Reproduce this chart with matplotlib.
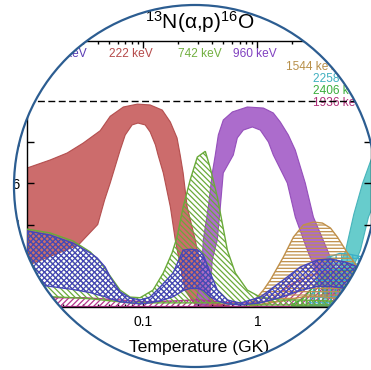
import numpy as np
import matplotlib
matplotlib.use('Agg')
import matplotlib.pyplot as plt
from matplotlib.patches import Annulus, Circle
from matplotlib.ticker import FuncFormatter, NullFormatter, LogLocator

plt.rcParams['font.family'] = ['Liberation Sans', 'DejaVu Sans']
plt.rcParams['mathtext.fontset'] = 'custom'
plt.rcParams['mathtext.rm'] = 'Liberation Sans'
plt.rcParams['mathtext.default'] = 'regular'
plt.rcParams['hatch.linewidth'] = 0.9

# 222 keV (сплошная полоса)
red_T_hi = [0.0096, 0.0153, 0.0216, 0.0298, 0.042, 0.0514, 0.067, 0.089, 0.115, 0.147, 0.173,
            0.198, 0.211, 0.224, 0.243, 0.286, 0.35, 0.43, 0.58]
red_hi = [0.674, 0.713, 0.747, 0.795, 0.855, 0.925, 0.970, 0.984, 0.98, 0.955, 0.897,
          0.82, 0.737, 0.65, 0.485, 0.325, 0.08, 0.02, 0.005]
red_T_lo = [0.0096, 0.027, 0.040, 0.046, 0.0514, 0.0628, 0.0696, 0.080, 0.090, 0.104, 0.115,
            0.128, 0.135, 0.150, 0.173, 0.191, 0.233, 0.286]
red_lo = [0.20, 0.30, 0.40, 0.52, 0.601, 0.76, 0.834, 0.883, 0.892, 0.883, 0.849,
          0.786, 0.737, 0.65, 0.485, 0.325, 0.08, 0.01]

# 960 keV
pur_T_hi = [0.286, 0.304, 0.329, 0.336, 0.372, 0.403, 0.428, 0.455, 0.503, 0.604, 0.817, 1.13,
            1.38, 1.59, 1.87, 2.15, 2.63, 3.10, 4.11, 5.03, 6.54]
pur_hi = [0.01, 0.08, 0.23, 0.325, 0.485, 0.65, 0.737, 0.834, 0.907, 0.946, 0.970, 0.965,
          0.941, 0.897, 0.834, 0.761, 0.601, 0.436, 0.276, 0.155, 0.044]
pur_T_lo = [0.372, 0.387, 0.403, 0.446, 0.474, 0.503, 0.616, 0.668, 0.754, 0.904, 1.06, 1.25,
            1.38, 1.83, 2.15, 2.74, 3.36, 3.95]
pur_lo = [0.01, 0.08, 0.23, 0.325, 0.485, 0.65, 0.737, 0.82, 0.858, 0.873, 0.858, 0.80,
          0.737, 0.601, 0.436, 0.276, 0.155, 0.044]

# 742 keV (штриховка)
grn_T = [0.0096, 0.0153, 0.0243, 0.0344, 0.042, 0.0514, 0.0628, 0.0769, 0.094, 0.122, 0.15,
         0.179, 0.198, 0.224, 0.258, 0.298, 0.35, 0.387, 0.446, 0.493, 0.546, 0.641, 0.817,
         1.06, 1.59, 2.38, 4.37, 9.6]
grn_hi = [0.378, 0.359, 0.32, 0.267, 0.218, 0.15, 0.082, 0.048, 0.045, 0.082, 0.165,
          0.262, 0.339, 0.485, 0.616, 0.727, 0.755, 0.674, 0.534, 0.407, 0.276, 0.165, 0.082,
          0.048, 0.034, 0.034, 0.029, 0.02]
grn_lo = [0.05, 0.05, 0.045, 0.04, 0.035, 0.03, 0.025, 0.02, 0.02, 0.02, 0.02,
          0.02, 0.02, 0.02, 0.02, 0.02, 0.02, 0.02, 0.02, 0.02, 0.015, 0.015, 0.01,
          0.01, 0.01, 0.01, 0.01, 0.01]

# самый низкий резонанс (синяя штриховка)
blu_T = [0.0096, 0.0153, 0.0243, 0.0344, 0.0395, 0.0464, 0.0514, 0.0628, 0.0769, 0.094, 0.115,
         0.141, 0.183, 0.224, 0.258, 0.304, 0.336, 0.387, 0.446, 0.546, 0.71, 1.06, 1.69,
         2.38, 3.36, 4.37, 5.91, 8.0, 9.6]
blu_hi = [0.369, 0.349, 0.31, 0.262, 0.238, 0.194, 0.145, 0.073, 0.044, 0.034, 0.048,
          0.097, 0.165, 0.276, 0.28, 0.276, 0.252, 0.165, 0.082, 0.034, 0.019, 0.048, 0.131,
          0.194, 0.228, 0.233, 0.218, 0.189, 0.17]
blu_lo = [0.116, 0.10, 0.085, 0.07, 0.06, 0.05, 0.04, 0.025, 0.02, 0.015, 0.02,
          0.03, 0.05, 0.08, 0.09, 0.09, 0.08, 0.05, 0.03, 0.015, 0.01, 0.02, 0.05,
          0.08, 0.10, 0.10, 0.09, 0.08, 0.07]

# 1544 keV
tan_T = [0.868, 1.0, 1.13, 1.30, 1.69, 2.07, 2.53, 3.10, 3.72, 4.37, 5.03, 6.16, 7.54, 9.6]
tan_hi = [0.019, 0.048, 0.082, 0.131, 0.242, 0.339, 0.398, 0.412, 0.407, 0.383, 0.339, 0.262,
          0.194, 0.14]
tan_lo = [0.005, 0.01, 0.015, 0.02, 0.03, 0.04, 0.05, 0.05, 0.05, 0.045, 0.04, 0.035, 0.03, 0.025]

# 2258 keV
cya_T_hi = [4.8, 5.2, 5.91, 7.0, 8.35, 10.0]
cya_hi = [0.08, 0.20, 0.27, 0.45, 0.60, 0.72]
cya_T_lo = [4.8, 6.5, 8.0, 9.4, 10.5]
cya_lo = [0.08, 0.155, 0.276, 0.436, 0.50]
cyb_T = [2.9, 3.36, 4.1, 5.3, 6.5, 8.0, 9.9]
cyb_hi = [0.03, 0.145, 0.24, 0.26, 0.255, 0.245, 0.23]
cyb_lo = [0.01, 0.01, 0.01, 0.01, 0.01, 0.01, 0.01]

# 2406 keV
gr2_T = [2.0, 2.5, 3.5, 4.5, 6.0, 8.0, 9.9]
gr2_hi = [0.01, 0.04, 0.13, 0.17, 0.18, 0.17, 0.16]
gr2_lo = [0.005, 0.005, 0.005, 0.005, 0.005, 0.005, 0.005]

# 1936 keV
mag_T = [0.0096, 0.03, 0.06, 0.1, 0.2, 0.3, 0.6, 1.0, 1.3, 1.95, 2.92, 4.37, 6.54, 9.6]
mag_hi = [0.045, 0.045, 0.035, 0.025, 0.03, 0.035, 0.02, 0.02, 0.034, 0.107, 0.155, 0.17,
          0.155, 0.12]
mag_lo = [0.002] * 14

y_ticks = [0.0, 0.2, 0.4, 0.6, 0.8, 1.0, 1.2]

# подписи резонансов: текст, цвет, x, y (доли осей), выравнивание
res_labels = [
    ('150 keV', '#5a3cb4', 0.172, 0.951, 'right'),
    ('222 keV', '#b54a4a', 0.302, 0.951, 'center'),
    ('742 keV', '#72b040', 0.503, 0.951, 'center'),
    ('960 keV', '#8040c0', 0.663, 0.951, 'center'),
    ('1544 keV', '#b8904a', 0.753, 0.902, 'left'),
    ('2258 keV', '#40b0c0', 0.831, 0.857, 'left'),
    ('2406 keV', '#3cae3c', 0.831, 0.812, 'left'),
    ('1936 keV', '#b0307a', 0.831, 0.767, 'left'),
]


def band(ax, T_hi, hi, T_lo, lo, color, hatch=None, edge=None, zorder=2):
    xs = list(T_hi) + list(T_lo)[::-1]
    ys = list(hi) + list(lo)[::-1]
    if hatch:
        ax.fill(xs, ys, facecolor='none', edgecolor=color, hatch=hatch, lw=1.0, zorder=zorder)
    else:
        ax.fill(xs, ys, facecolor=color, edgecolor=edge, lw=0.8, alpha=0.92, zorder=zorder)


fig = plt.figure(figsize=(3.71, 3.70), dpi=100)
ax = fig.add_axes([27 / 371, 63 / 370, 344 / 371, 266 / 370])

band(ax, red_T_hi, red_hi, red_T_lo, red_lo, '#c85f5f', edge='#b04848', zorder=1)
band(ax, pur_T_hi, pur_hi, pur_T_lo, pur_lo, '#a55fc8', edge='#9048b8', zorder=1)
band(ax, cya_T_hi, cya_hi, cya_T_lo, cya_lo, '#5ac8c8', edge='#40b0b8', zorder=1)

band(ax, mag_T, mag_hi, mag_T, mag_lo, '#b4348c', hatch='//////', zorder=2)
band(ax, gr2_T, gr2_hi, gr2_T, gr2_lo, '#3cae3c', hatch='||||', zorder=2)
band(ax, cyb_T, cyb_hi, cyb_T, cyb_lo, '#3cb0c8', hatch='+++', zorder=2)
band(ax, tan_T, tan_hi, tan_T, tan_lo, '#c0904a', hatch='-----', zorder=2)
band(ax, grn_T, grn_hi, grn_T, grn_lo, '#6aaa3a', hatch='\\\\\\\\\\\\', zorder=3)
band(ax, blu_T, blu_hi, blu_T, blu_lo, '#4646b8', hatch='xxxxxx', zorder=4)

ax.axhline(1.0, color='k', ls=(0, (5, 2.5)), lw=1.0, zorder=5)

ax.set_xscale('log')
ax.set_xlim(0.0096, 9.9)
ax.set_ylim(0, 1.29)
ax.set_yticks(y_ticks)
ax.yaxis.set_major_formatter(FuncFormatter(lambda v, _: f'{v:.1f}'))
ax.xaxis.set_major_locator(LogLocator(base=10))
ax.xaxis.set_minor_locator(LogLocator(base=10, subs=np.arange(2, 10)))
ax.xaxis.set_major_formatter(FuncFormatter(lambda v, _: f'{v:g}'))
ax.xaxis.set_minor_formatter(NullFormatter())
ax.tick_params(which='both', direction='in', top=True, right=True, width=1, labelsize=10)
ax.tick_params(which='major', length=5)
ax.tick_params(which='minor', length=2.5)
ax.tick_params(axis='x', pad=6)
ax.tick_params(axis='y', pad=4.5)
for s in ax.spines.values():
    s.set_linewidth(1.0)

for txt, col, x, y, ha in res_labels:
    ax.text(x, y, txt, color=col, fontsize=8.6, ha=ha, va='center', transform=ax.transAxes)

ax.text(0.503, 1.045, '$^{13}$N(α,p)$^{16}$O', fontsize=15, ha='center', va='baseline',
        transform=ax.transAxes)
ax.text(0.5, -0.169, 'Temperature (GK)', fontsize=12.6, ha='center', va='baseline',
        transform=ax.transAxes)

# круглая маска
ov = fig.add_axes([0, 0, 1, 1])
ov.set_xlim(0, 371)
ov.set_ylim(370, 0)
ov.axis('off')
ov.add_patch(Annulus((195, 186), 420, 420 - 181, facecolor='white', edgecolor='none'))
ov.add_patch(Circle((195, 186), 181, fill=False, edgecolor='#2c5d91', lw=1.6))

fig.savefig('out.png', dpi=100)
